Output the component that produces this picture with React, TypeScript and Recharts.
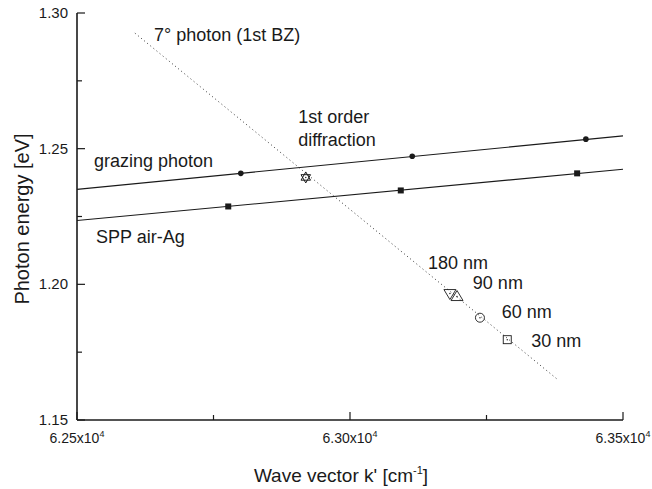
import React from 'react';
import { ComposedChart, Line, Scatter, XAxis, YAxis } from 'recharts';

// axis ticks
const kDomain = [62500, 63500];
const kTicks = [62500, 62750, 63000, 63250, 63500];
const kTickLabels = ['6.25', '', '6.30', '', '6.35'];
const eDomain = [1.15, 1.3];
const eTicks = [1.15, 1.175, 1.2, 1.225, 1.25, 1.275, 1.3];
const eTickLabels = ['1.15', '', '1.20', '', '1.25', '', '1.30'];

// grazing photon
const grazingLineK = [62500, 63500];
const grazingLineE = [1.235, 1.2547];
const grazingPtsK = [62800, 63114, 63432];
const grazingPtsE = [1.2409, 1.2472, 1.2535];

// SPP air-Ag
const sppLineK = [62500, 63500];
const sppLineE = [1.2235, 1.2424];
const sppPtsK = [62777, 63093, 63416];
const sppPtsE = [1.2287, 1.2346, 1.2409];

// 7 deg photon (1st BZ)
const photonLineK = [62606, 63381];
const photonLineE = [1.2926, 1.1648];

// 1st order diffraction crossing
const crossK = [62919];
const crossE = [1.2394];

// grating periods
const periodNames = ['180 nm', '90 nm', '60 nm', '30 nm'];
const periodK = [63183, 63196, 63238, 63288];
const periodE = [1.1966, 1.1955, 1.1877, 1.1796];
const periodMarker = ['down', 'up', 'circle', 'square'];

// text annotations (anchor = start of baseline)
const noteText = ['7° photon (1st BZ)', '1st order', 'diffraction', 'grazing photon', 'SPP air-Ag', '180 nm', '90 nm', '60 nm', '30 nm'];
const noteK = [62641, 62905, 62905, 62531, 62535, 63143, 63225, 63278, 63332];
const noteE = [1.2897, 1.2594, 1.2509, 1.2431, 1.2154, 1.2058, 1.1984, 1.1877, 1.177];

const zip = (ks: number[], es: number[]) => ks.map((k, i) => ({ k, e: es[i] }));

const grazingLine = zip(grazingLineK, grazingLineE);
const grazingPts = zip(grazingPtsK, grazingPtsE);
const sppLine = zip(sppLineK, sppLineE);
const sppPts = zip(sppPtsK, sppPtsE);
const photonLine = zip(photonLineK, photonLineE);
const cross = zip(crossK, crossE);
const periods = periodK.map((k, i) => ({ k, e: periodE[i], name: periodNames[i], marker: periodMarker[i] }));
const notes = noteK.map((k, i) => ({ k, e: noteE[i], text: noteText[i] }));

const INK = '#1a1a1a';
const FONT = 'Arial, "Liberation Sans", Helvetica, sans-serif';

const BottomTick = (props: any) => {
  const { x, y, index } = props;
  const major = index % 2 === 0;
  const label = kTickLabels[index];
  return (
    <g>
      <line x1={x} y1={y} x2={x} y2={y - (major ? 8 : 5)} stroke={INK} strokeWidth={1.2} />
      {label && (
        <text x={x} y={y + 23} textAnchor="middle" fontSize={14} fill={INK} fontFamily={FONT}>
          {label}x10
          <tspan dy={-6} fontSize={9}>4</tspan>
        </text>
      )}
    </g>
  );
};

const TopTick = (props: any) => {
  const { x, y, index } = props;
  const major = index % 2 === 0;
  return <line x1={x} y1={y} x2={x} y2={y + (major ? 8 : 5)} stroke={INK} strokeWidth={1.2} />;
};

const LeftTick = (props: any) => {
  const { x, y, index } = props;
  const major = index % 2 === 0;
  const label = eTickLabels[index];
  return (
    <g>
      <line x1={x} y1={y} x2={x + (major ? 8 : 5)} y2={y} stroke={INK} strokeWidth={1.2} />
      {label && (
        <text x={x - 9} y={y + 5} textAnchor="end" fontSize={15} fill={INK} fontFamily={FONT}>
          {label}
        </text>
      )}
    </g>
  );
};

const RightTick = (props: any) => {
  const { x, y, index } = props;
  const major = index % 2 === 0;
  return <line x1={x} y1={y} x2={x - (major ? 8 : 5)} y2={y} stroke={INK} strokeWidth={1.2} />;
};

const FilledCircle = (p: any) => <circle cx={p.cx} cy={p.cy} r={2.8} fill={INK} />;
const FilledSquare = (p: any) => <rect x={p.cx - 3} y={p.cy - 3} width={6} height={6} fill={INK} />;

const StarMark = (p: any) => {
  const { cx, cy } = p;
  const r = 5.5;
  const tri = (rot: number) =>
    [0, 1, 2]
      .map((i) => {
        const a = ((rot + i * 120) * Math.PI) / 180;
        return `${cx + r * Math.sin(a)},${cy - r * Math.cos(a)}`;
      })
      .join(' ');
  return (
    <g fill="none" stroke={INK} strokeWidth={1}>
      <polygon points={tri(0)} />
      <polygon points={tri(180)} />
      <circle cx={cx} cy={cy} r={0.7} fill={INK} stroke="none" />
    </g>
  );
};

const PeriodMark = (p: any) => {
  const { cx, cy, payload } = p;
  const m = payload.marker;
  let shape: React.ReactNode = null;
  if (m === 'down') {
    shape = <polygon points={`${cx - 6},${cy - 4} ${cx + 6},${cy - 4} ${cx},${cy + 6}`} />;
  } else if (m === 'up') {
    shape = <polygon points={`${cx - 6},${cy + 4} ${cx + 6},${cy + 4} ${cx},${cy - 6}`} />;
  } else if (m === 'circle') {
    shape = <circle cx={cx} cy={cy} r={4.5} />;
  } else {
    shape = <rect x={cx - 4} y={cy - 4} width={8} height={8} />;
  }
  return (
    <g fill="none" stroke={INK} strokeWidth={0.9}>
      {shape}
      <circle cx={cx} cy={cy} r={0.7} fill={INK} stroke="none" />
    </g>
  );
};

const NoteText = (p: any) => (
  <text x={p.cx} y={p.cy} fontSize={18} fill={INK} fontFamily={FONT}>
    {p.payload.text}
  </text>
);

const XTitle = (props: any) => {
  const { viewBox } = props;
  const cx = viewBox.x + viewBox.width / 2 - 9;
  return (
    <text x={cx} y={viewBox.y + 62} textAnchor="middle" fontSize={19} fill={INK} fontFamily={FONT}>
      Wave vector k' [cm
      <tspan dy={-8} fontSize={11}>-1</tspan>
      <tspan dy={8}>]</tspan>
    </text>
  );
};

const YTitle = () => (
  <text
    x={29}
    y={219}
    transform="rotate(-90 29 219)"
    textAnchor="middle"
    fontSize={20}
    fill={INK}
    fontFamily={FONT}
  >
    Photon energy [eV]
  </text>
);

export default function App() {
  return (
    <div style={{ position: 'absolute', left: 0, top: 0, width: 652, height: 489, background: '#fff' }}>
      <ComposedChart width={652} height={489} margin={{ top: 13, right: 29, bottom: 0, left: 0 }}>
        <XAxis
          dataKey="k"
          type="number"
          domain={kDomain}
          ticks={kTicks}
          interval={0}
          allowDataOverflow
          height={69}
          tickSize={0}
          tickMargin={0}
          tickLine={false}
          tick={<BottomTick />}
          axisLine={{ stroke: INK, strokeWidth: 1.6 }}
          label={{ content: <XTitle /> }}
        />
        <XAxis
          xAxisId="top"
          orientation="top"
          dataKey="k"
          type="number"
          domain={kDomain}
          ticks={kTicks}
          interval={0}
          allowDataOverflow
          height={0}
          tickSize={0}
          tickMargin={0}
          tickLine={false}
          tick={<TopTick />}
          axisLine={{ stroke: INK, strokeWidth: 1.6 }}
        />
        <YAxis
          dataKey="e"
          type="number"
          domain={eDomain}
          ticks={eTicks}
          interval={0}
          allowDataOverflow
          width={77}
          tickSize={0}
          tickMargin={0}
          tickLine={false}
          tick={<LeftTick />}
          axisLine={{ stroke: INK, strokeWidth: 1.6 }}
          label={{ content: <YTitle /> }}
        />
        <YAxis
          yAxisId="right"
          orientation="right"
          dataKey="e"
          type="number"
          domain={eDomain}
          ticks={eTicks}
          interval={0}
          allowDataOverflow
          width={0}
          tickSize={0}
          tickMargin={0}
          tickLine={false}
          tick={<RightTick />}
          axisLine={{ stroke: INK, strokeWidth: 1.6 }}
        />

        <Line data={grazingLine} dataKey="e" type="linear" stroke={INK} strokeWidth={1.1} dot={false} activeDot={false} isAnimationActive={false} />
        <Line data={sppLine} dataKey="e" type="linear" stroke={INK} strokeWidth={1.1} dot={false} activeDot={false} isAnimationActive={false} />
        <Line
          data={photonLine}
          dataKey="e"
          type="linear"
          stroke="#333"
          strokeWidth={1}
          strokeDasharray="1 3"
          dot={false}
          activeDot={false}
          isAnimationActive={false}
        />
        <Scatter data={grazingPts} dataKey="e" shape={<FilledCircle />} isAnimationActive={false} />
        <Scatter data={sppPts} dataKey="e" shape={<FilledSquare />} isAnimationActive={false} />
        <Scatter data={cross} dataKey="e" shape={<StarMark />} isAnimationActive={false} />
        <Scatter data={periods} dataKey="e" shape={<PeriodMark />} isAnimationActive={false} />
        <Scatter data={notes} dataKey="e" shape={<NoteText />} isAnimationActive={false} />
      </ComposedChart>
    </div>
  );
}
